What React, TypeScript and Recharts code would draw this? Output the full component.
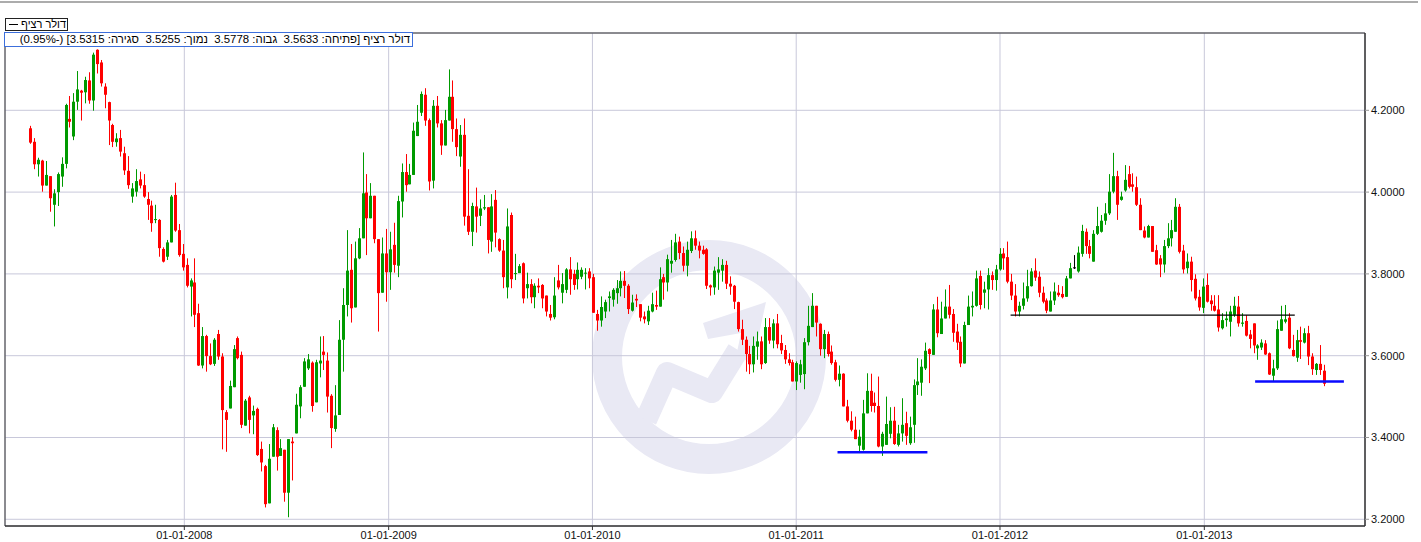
import React from 'react'
import { ComposedChart, Bar, XAxis, YAxis, CartesianGrid, ReferenceLine, ReferenceArea } from 'recharts'

const DAY = 86400000
const firstWeek = Date.UTC(2007, 3, 1)
const years = [2008, 2009, 2010, 2011, 2012, 2013]
const priceTicks = [3.2, 3.4, 3.6, 3.8, 4.0, 4.2]
const seriesName = 'דולר רציף'
const changeText = '(-0.95%)'

// weekly OHLC, dollar / shekel
const opens = [
  4.156, 4.123, 4.068, 4.077, 4.016, 4.039, 3.969, 4.000, 4.038, 4.069,
  4.179, 4.136, 4.221, 4.248, 4.244, 4.273, 4.224, 4.348, 4.317, 4.258,
  4.220, 4.164, 4.122, 4.132, 4.095, 4.052, 3.989, 4.001, 4.031, 4.017,
  3.983, 3.967, 3.932, 3.932, 3.861, 3.842, 3.877, 3.993, 3.907, 3.849,
  3.822, 3.769, 3.779, 3.704, 3.576, 3.648, 3.599, 3.580, 3.653, 3.598,
  3.462, 3.471, 3.523, 3.643, 3.602, 3.429, 3.498, 3.454, 3.470, 3.372,
  3.330, 3.239, 3.353, 3.418, 3.355, 3.370, 3.265, 3.390, 3.410, 3.476,
  3.524, 3.569, 3.583, 3.486, 3.581, 3.610, 3.588, 3.502, 3.421, 3.455,
  3.639, 3.724, 3.810, 3.718, 3.838, 3.887, 3.999, 3.936, 3.991, 3.885,
  3.754, 3.850, 3.804, 3.871, 3.820, 3.977, 4.049, 4.019, 4.042, 4.137,
  4.194, 4.238, 4.176, 4.028, 4.211, 4.168, 4.114, 4.175, 4.233, 4.154,
  4.087, 4.140, 3.942, 3.903, 3.965, 3.942, 3.960, 3.963, 3.879, 3.981,
  3.885, 3.857, 3.767, 3.944, 3.800, 3.802, 3.826, 3.765, 3.775, 3.743,
  3.771, 3.773, 3.747, 3.702, 3.694, 3.784, 3.754, 3.761, 3.811, 3.800,
  3.787, 3.793, 3.802, 3.806, 3.792, 3.702, 3.686, 3.708, 3.741, 3.737,
  3.753, 3.765, 3.783, 3.771, 3.710, 3.739, 3.726, 3.696, 3.684, 3.708,
  3.724, 3.720, 3.792, 3.779, 3.825, 3.834, 3.879, 3.851, 3.820, 3.856,
  3.887, 3.869, 3.859, 3.860, 3.772, 3.767, 3.803, 3.808, 3.822, 3.776,
  3.771, 3.731, 3.665, 3.639, 3.604, 3.579, 3.622, 3.635, 3.582, 3.670,
  3.637, 3.679, 3.631, 3.614, 3.591, 3.584, 3.537, 3.553, 3.555, 3.633,
  3.670, 3.722, 3.678, 3.616, 3.653, 3.610, 3.584, 3.541, 3.556, 3.476,
  3.441, 3.419, 3.380, 3.370, 3.459, 3.514, 3.485, 3.477, 3.378, 3.382,
  3.409, 3.441, 3.382, 3.410, 3.435, 3.386, 3.431, 3.528, 3.534, 3.569,
  3.616, 3.602, 3.713, 3.653, 3.691, 3.720, 3.702, 3.659, 3.634, 3.581,
  3.675, 3.718, 3.722, 3.795, 3.754, 3.762, 3.797, 3.785, 3.811, 3.850,
  3.841, 3.781, 3.747, 3.708, 3.722, 3.740, 3.770, 3.808, 3.793, 3.754,
  3.735, 3.708, 3.735, 3.754, 3.751, 3.744, 3.789, 3.816, 3.806, 3.849,
  3.903, 3.868, 3.830, 3.898, 3.903, 3.930, 3.948, 4.001, 4.039, 3.981,
  4.004, 4.044, 4.019, 4.012, 3.969, 3.906, 3.889, 3.917, 3.858, 3.838,
  3.823, 3.868, 3.887, 3.903, 3.964, 3.857, 3.814, 3.830, 3.788, 3.744,
  3.717, 3.773, 3.735, 3.722, 3.713, 3.667, 3.687, 3.683, 3.700, 3.720,
  3.678, 3.685, 3.652, 3.679, 3.618, 3.620, 3.630, 3.606, 3.551, 3.569,
  3.661, 3.683, 3.693, 3.614, 3.595, 3.638, 3.632, 3.655, 3.598, 3.565,
  3.580, 3.5633,
]

const highs = [
  4.162, 4.132, 4.084, 4.079, 4.076, 4.039, 4.007, 4.048, 4.085, 4.216,
  4.235, 4.242, 4.296, 4.250, 4.282, 4.293, 4.341, 4.349, 4.323, 4.266,
  4.221, 4.167, 4.144, 4.152, 4.111, 4.088, 4.022, 4.056, 4.050, 4.044,
  4.000, 3.979, 3.969, 3.934, 3.865, 3.883, 3.993, 4.023, 3.922, 3.873,
  3.838, 3.789, 3.838, 3.727, 3.670, 3.651, 3.630, 3.643, 3.663, 3.606,
  3.467, 3.539, 3.626, 3.647, 3.610, 3.494, 3.502, 3.478, 3.473, 3.390,
  3.333, 3.384, 3.433, 3.425, 3.396, 3.370, 3.396, 3.401, 3.507, 3.528,
  3.594, 3.604, 3.586, 3.590, 3.647, 3.648, 3.608, 3.506, 3.528, 3.687,
  3.765, 3.907, 3.873, 3.879, 3.912, 4.097, 4.044, 4.022, 3.991, 3.885,
  3.889, 3.910, 3.903, 3.925, 3.991, 4.070, 4.093, 4.069, 4.170, 4.213,
  4.246, 4.254, 4.180, 4.225, 4.235, 4.176, 4.201, 4.300, 4.273, 4.180,
  4.164, 4.180, 4.056, 3.974, 4.011, 3.982, 3.993, 3.963, 3.995, 4.005,
  3.887, 3.883, 3.960, 3.950, 3.849, 3.824, 3.828, 3.803, 3.787, 3.777,
  3.789, 3.775, 3.747, 3.724, 3.792, 3.822, 3.802, 3.814, 3.841, 3.810,
  3.828, 3.816, 3.814, 3.814, 3.800, 3.712, 3.745, 3.737, 3.757, 3.765,
  3.785, 3.806, 3.807, 3.775, 3.749, 3.750, 3.726, 3.708, 3.722, 3.754,
  3.759, 3.816, 3.800, 3.847, 3.883, 3.898, 3.891, 3.867, 3.879, 3.904,
  3.906, 3.879, 3.869, 3.863, 3.774, 3.818, 3.841, 3.836, 3.832, 3.794,
  3.773, 3.732, 3.688, 3.647, 3.624, 3.647, 3.659, 3.647, 3.692, 3.692,
  3.689, 3.702, 3.651, 3.626, 3.606, 3.590, 3.586, 3.590, 3.643, 3.722,
  3.753, 3.722, 3.679, 3.663, 3.659, 3.625, 3.590, 3.576, 3.557, 3.492,
  3.464, 3.451, 3.419, 3.492, 3.557, 3.556, 3.510, 3.549, 3.414, 3.500,
  3.474, 3.475, 3.431, 3.496, 3.463, 3.451, 3.542, 3.594, 3.591, 3.632,
  3.618, 3.726, 3.744, 3.732, 3.762, 3.773, 3.714, 3.678, 3.647, 3.683,
  3.747, 3.757, 3.808, 3.808, 3.781, 3.814, 3.806, 3.822, 3.863, 3.863,
  3.879, 3.800, 3.775, 3.732, 3.779, 3.810, 3.814, 3.838, 3.806, 3.769,
  3.740, 3.757, 3.779, 3.773, 3.770, 3.795, 3.827, 3.846, 3.867, 3.920,
  3.911, 3.883, 3.907, 3.964, 3.944, 3.973, 4.044, 4.096, 4.052, 4.001,
  4.066, 4.064, 4.046, 4.038, 3.985, 3.916, 3.920, 3.917, 3.871, 3.846,
  3.883, 3.924, 3.932, 3.985, 3.971, 3.871, 3.850, 3.842, 3.799, 3.761,
  3.789, 3.801, 3.748, 3.748, 3.748, 3.704, 3.708, 3.722, 3.744, 3.746,
  3.704, 3.699, 3.663, 3.679, 3.628, 3.640, 3.638, 3.608, 3.590, 3.686,
  3.722, 3.724, 3.704, 3.651, 3.663, 3.671, 3.667, 3.673, 3.606, 3.582,
  3.626, 3.5778,
]

const lows = [
  4.118, 4.056, 4.038, 4.001, 4.016, 3.952, 3.916, 3.966, 4.013, 4.058,
  4.158, 4.127, 4.201, 4.175, 4.217, 4.216, 4.199, 4.290, 4.258, 4.205,
  4.115, 4.110, 4.111, 4.087, 4.042, 4.008, 3.974, 3.989, 4.009, 3.986,
  3.932, 3.903, 3.924, 3.842, 3.828, 3.834, 3.877, 3.903, 3.842, 3.808,
  3.767, 3.696, 3.670, 3.575, 3.569, 3.561, 3.577, 3.575, 3.590, 3.371,
  3.365, 3.471, 3.523, 3.591, 3.423, 3.429, 3.410, 3.408, 3.355, 3.317,
  3.229, 3.239, 3.353, 3.319, 3.355, 3.243, 3.205, 3.295, 3.410, 3.447,
  3.524, 3.565, 3.463, 3.486, 3.547, 3.565, 3.461, 3.374, 3.414, 3.455,
  3.561, 3.696, 3.681, 3.718, 3.836, 3.887, 3.846, 3.936, 3.875, 3.659,
  3.754, 3.732, 3.761, 3.803, 3.792, 3.938, 4.001, 4.019, 4.042, 4.137,
  4.186, 4.162, 4.004, 4.009, 4.158, 4.091, 4.114, 4.175, 4.123, 4.088,
  4.062, 3.918, 3.895, 3.868, 3.901, 3.917, 3.956, 3.850, 3.854, 3.865,
  3.854, 3.765, 3.740, 3.765, 3.785, 3.802, 3.728, 3.740, 3.728, 3.716,
  3.753, 3.716, 3.696, 3.686, 3.689, 3.762, 3.728, 3.753, 3.749, 3.761,
  3.762, 3.787, 3.762, 3.765, 3.705, 3.661, 3.671, 3.692, 3.708, 3.720,
  3.727, 3.745, 3.741, 3.702, 3.708, 3.719, 3.684, 3.679, 3.675, 3.706,
  3.712, 3.720, 3.737, 3.757, 3.803, 3.830, 3.836, 3.806, 3.794, 3.851,
  3.859, 3.838, 3.847, 3.763, 3.747, 3.749, 3.761, 3.781, 3.763, 3.749,
  3.714, 3.659, 3.626, 3.561, 3.555, 3.559, 3.590, 3.567, 3.580, 3.629,
  3.618, 3.618, 3.604, 3.580, 3.576, 3.537, 3.516, 3.534, 3.518, 3.625,
  3.670, 3.647, 3.600, 3.594, 3.598, 3.578, 3.537, 3.525, 3.476, 3.437,
  3.415, 3.396, 3.362, 3.368, 3.459, 3.463, 3.461, 3.376, 3.355, 3.382,
  3.398, 3.382, 3.378, 3.390, 3.382, 3.382, 3.387, 3.504, 3.502, 3.565,
  3.533, 3.602, 3.645, 3.653, 3.691, 3.691, 3.634, 3.614, 3.572, 3.581,
  3.675, 3.696, 3.720, 3.713, 3.716, 3.713, 3.761, 3.759, 3.808, 3.810,
  3.777, 3.736, 3.696, 3.696, 3.713, 3.732, 3.769, 3.783, 3.743, 3.728,
  3.704, 3.708, 3.724, 3.744, 3.740, 3.744, 3.789, 3.812, 3.803, 3.842,
  3.849, 3.838, 3.830, 3.895, 3.901, 3.920, 3.944, 3.997, 3.932, 3.979,
  4.001, 4.009, 4.001, 3.966, 3.907, 3.887, 3.889, 3.854, 3.822, 3.792,
  3.803, 3.863, 3.867, 3.903, 3.850, 3.801, 3.801, 3.757, 3.735, 3.710,
  3.704, 3.730, 3.710, 3.708, 3.659, 3.664, 3.671, 3.647, 3.695, 3.671,
  3.671, 3.647, 3.618, 3.606, 3.590, 3.614, 3.602, 3.553, 3.537, 3.565,
  3.661, 3.679, 3.616, 3.598, 3.585, 3.592, 3.630, 3.577, 3.553, 3.553,
  3.553, 3.5255,
]

const closes = [
  4.121, 4.068, 4.079, 4.016, 4.042, 3.985, 3.997, 4.044, 4.069, 4.213,
  4.172, 4.221, 4.251, 4.243, 4.274, 4.224, 4.336, 4.313, 4.266, 4.238,
  4.175, 4.123, 4.131, 4.099, 4.053, 4.017, 4.009, 4.027, 4.016, 3.989,
  3.969, 3.924, 3.934, 3.863, 3.830, 3.877, 3.989, 3.906, 3.846, 3.816,
  3.771, 3.784, 3.700, 3.576, 3.648, 3.599, 3.579, 3.639, 3.598, 3.467,
  3.443, 3.526, 3.616, 3.594, 3.431, 3.490, 3.443, 3.465, 3.357, 3.339,
  3.237, 3.348, 3.425, 3.353, 3.374, 3.265, 3.396, 3.386, 3.480, 3.523,
  3.586, 3.591, 3.477, 3.584, 3.588, 3.602, 3.500, 3.423, 3.454, 3.639,
  3.724, 3.808, 3.716, 3.838, 3.887, 3.997, 3.936, 3.991, 3.885, 3.753,
  3.850, 3.804, 3.860, 3.822, 3.978, 4.049, 4.017, 4.042, 4.150, 4.172,
  4.240, 4.175, 4.026, 4.211, 4.168, 4.114, 4.176, 4.233, 4.154, 4.110,
  4.140, 3.940, 3.903, 3.966, 3.940, 3.960, 3.963, 3.883, 3.965, 3.901,
  3.857, 3.792, 3.916, 3.787, 3.802, 3.819, 3.740, 3.775, 3.743, 3.771,
  3.767, 3.740, 3.708, 3.693, 3.747, 3.767, 3.775, 3.811, 3.787, 3.773,
  3.810, 3.810, 3.803, 3.789, 3.705, 3.686, 3.719, 3.731, 3.745, 3.761,
  3.765, 3.783, 3.771, 3.714, 3.730, 3.735, 3.693, 3.689, 3.710, 3.726,
  3.720, 3.787, 3.779, 3.836, 3.832, 3.877, 3.851, 3.820, 3.859, 3.887,
  3.869, 3.857, 3.849, 3.771, 3.767, 3.808, 3.811, 3.822, 3.776, 3.769,
  3.732, 3.665, 3.639, 3.604, 3.579, 3.624, 3.635, 3.579, 3.670, 3.637,
  3.679, 3.628, 3.613, 3.591, 3.582, 3.537, 3.582, 3.579, 3.633, 3.673,
  3.722, 3.681, 3.616, 3.653, 3.604, 3.582, 3.541, 3.556, 3.476, 3.441,
  3.419, 3.396, 3.402, 3.459, 3.514, 3.477, 3.477, 3.378, 3.409, 3.433,
  3.441, 3.384, 3.410, 3.431, 3.404, 3.425, 3.528, 3.537, 3.573, 3.612,
  3.604, 3.713, 3.655, 3.691, 3.720, 3.700, 3.656, 3.632, 3.581, 3.675,
  3.720, 3.722, 3.789, 3.724, 3.762, 3.797, 3.785, 3.811, 3.849, 3.838,
  3.781, 3.747, 3.708, 3.722, 3.740, 3.770, 3.806, 3.791, 3.754, 3.732,
  3.710, 3.735, 3.757, 3.748, 3.743, 3.789, 3.814, 3.816, 3.852, 3.905,
  3.868, 3.849, 3.898, 3.917, 3.930, 3.948, 4.001, 4.039, 3.969, 3.989,
  4.030, 4.013, 4.013, 3.969, 3.907, 3.889, 3.917, 3.854, 3.823, 3.823,
  3.868, 3.887, 3.907, 3.964, 3.854, 3.811, 3.830, 3.785, 3.740, 3.718,
  3.769, 3.732, 3.726, 3.710, 3.669, 3.687, 3.691, 3.708, 3.722, 3.679,
  3.681, 3.649, 3.641, 3.625, 3.625, 3.632, 3.603, 3.554, 3.569, 3.665,
  3.689, 3.689, 3.618, 3.599, 3.638, 3.634, 3.655, 3.598, 3.567, 3.580,
  3.565, 3.5315,
]

// lines drawn on the chart by hand (start, end, level)
const lowSupport = [Date.UTC(2011, 2, 16), Date.UTC(2011, 7, 24), 3.364]
const resistance = [Date.UTC(2012, 0, 20), Date.UTC(2013, 5, 12), 3.699]
const lastSupport = [Date.UTC(2013, 3, 2), Date.UTC(2013, 8, 8), 3.537]

const GREEN = '#009a00'
const RED = '#ff0000'
const GRID = '#c8c8da'
const FONT = '"Liberation Sans", Arial, sans-serif'

const candles = opens.map((open, i) => ({
  t: firstWeek + i * 7 * DAY,
  open,
  high: highs[i],
  low: lows[i],
  close: closes[i],
}))
const last = candles[candles.length - 1]

const yearTicks = years.map(y => Date.UTC(y, 0, 1))
const xDomain = [Date.UTC(2008, 0, 1) - 321.2 * DAY, Date.UTC(2013, 0, 1) + 287.8 * DAY]
const yDomain = [3.1836, 4.389]

const fmtYear = (v: number) => `01-01-${new Date(v).getUTCFullYear()}`

function Candle(props: any) {
  const { x, y, width, height, payload } = props
  if (x == null || y == null || !payload) return null
  const { open, high, low, close } = payload
  const top = Math.min(y, y + height)
  const h = Math.abs(height)
  const toY = (v: number) => (high === low ? top : top + ((high - v) / (high - low)) * h)
  const color = close > open ? GREEN : close < open ? RED : '#000'
  const cx = Math.round(x + width / 2)
  const bodyTop = toY(Math.max(open, close))
  const bodyBot = toY(Math.min(open, close))
  return (
    <g>
      <line x1={cx + 0.5} x2={cx + 0.5} y1={top} y2={top + h} stroke={color} strokeWidth={1} />
      <rect x={cx - 1} y={bodyTop} width={3} height={Math.max(1, bodyBot - bodyTop)} fill={color} />
    </g>
  )
}

// faint logo behind the plot
function Watermark() {
  const c = '#e9e9f4'
  return (
    <svg width={1421} height={542} style={{ position: 'absolute', left: 0, top: 0 }}>
      <circle cx={709} cy={357} r={102} fill="none" stroke={c} strokeWidth={30} />
      <polyline points="646,420 667,373 712,392 738,350" fill="none" stroke={c} strokeWidth={22} strokeLinejoin="round" />
      <polygon points="703,323 766,302 752,366 737,352 741,333 708,339" fill={c} />
    </svg>
  )
}

export default function App() {
  const info = `${seriesName} [פתיחה: ${last.open.toFixed(4)}  גבוה: ${last.high.toFixed(4)}  נמוך: ${last.low.toFixed(4)}  סגירה: ${last.close.toFixed(4)}] ${changeText}`
  return (
    <div style={{ position: 'absolute', left: 0, top: 0, width: 1421, height: 542, background: '#fff', fontFamily: FONT, overflow: 'hidden' }}>
      <div style={{ position: 'absolute', left: 0, top: 1, width: 1418, height: 2, background: '#acacac' }} />
      <Watermark />
      <div style={{ position: 'absolute', left: 0, top: 0 }}>
        <ComposedChart width={1421} height={542} data={candles} margin={{ top: 33, right: 0, bottom: 0, left: 5 }}>
          <CartesianGrid stroke={GRID} />
          <XAxis
            dataKey="t"
            type="number"
            domain={xDomain}
            allowDataOverflow
            ticks={yearTicks}
            tickFormatter={fmtYear}
            height={16}
            tickSize={4}
            tickMargin={1}
            axisLine={{ stroke: '#333' }}
            tickLine={{ stroke: '#333' }}
            tick={{ fontSize: 11, fill: '#111', fontFamily: FONT }}
          />
          <YAxis
            orientation="right"
            type="number"
            domain={yDomain}
            allowDataOverflow
            ticks={priceTicks}
            tickFormatter={(v: number) => v.toFixed(4)}
            width={56}
            tickSize={4}
            tickMargin={2}
            axisLine={{ stroke: '#333' }}
            tickLine={{ stroke: '#999' }}
            tick={{ fontSize: 11, fill: '#111', fontFamily: FONT }}
          />
          <ReferenceArea x1={xDomain[0]} x2={xDomain[1]} y1={yDomain[0]} y2={yDomain[1]} fill="none" stroke="#333" ifOverflow="extendDomain" />
          <Bar dataKey={(d: any) => [d.low, d.high]} shape={<Candle />} barSize={3} isAnimationActive={false} />
          <ReferenceLine segment={[{ x: lowSupport[0], y: lowSupport[2] }, { x: lowSupport[1], y: lowSupport[2] }]} stroke="#0a0aff" strokeWidth={2.5} />
          <ReferenceLine segment={[{ x: resistance[0], y: resistance[2] }, { x: resistance[1], y: resistance[2] }]} stroke="#000" strokeWidth={1.3} />
          <ReferenceLine segment={[{ x: lastSupport[0], y: lastSupport[2] }, { x: lastSupport[1], y: lastSupport[2] }]} stroke="#0a0aff" strokeWidth={2.5} />
        </ComposedChart>
      </div>
      <div style={{ position: 'absolute', left: 5, top: 18, width: 61, height: 11, border: '1px solid #222', background: '#fff', fontSize: 11, lineHeight: '11px', display: 'flex', alignItems: 'center' }}>
        <span style={{ display: 'inline-block', width: 9, height: 1, background: '#000', margin: '0 3px 0 3px' }} />
        <span style={{ direction: 'rtl' }}>{seriesName}</span>
      </div>
      <div style={{ position: 'absolute', left: 4, top: 32, width: 405, height: 13, border: '1px solid #3c6fdc', background: '#fff', fontSize: 11.4, lineHeight: '13px', direction: 'rtl', textAlign: 'right', whiteSpace: 'pre', paddingRight: 2, overflow: 'hidden' }}>
        {info}
      </div>
    </div>
  )
}
